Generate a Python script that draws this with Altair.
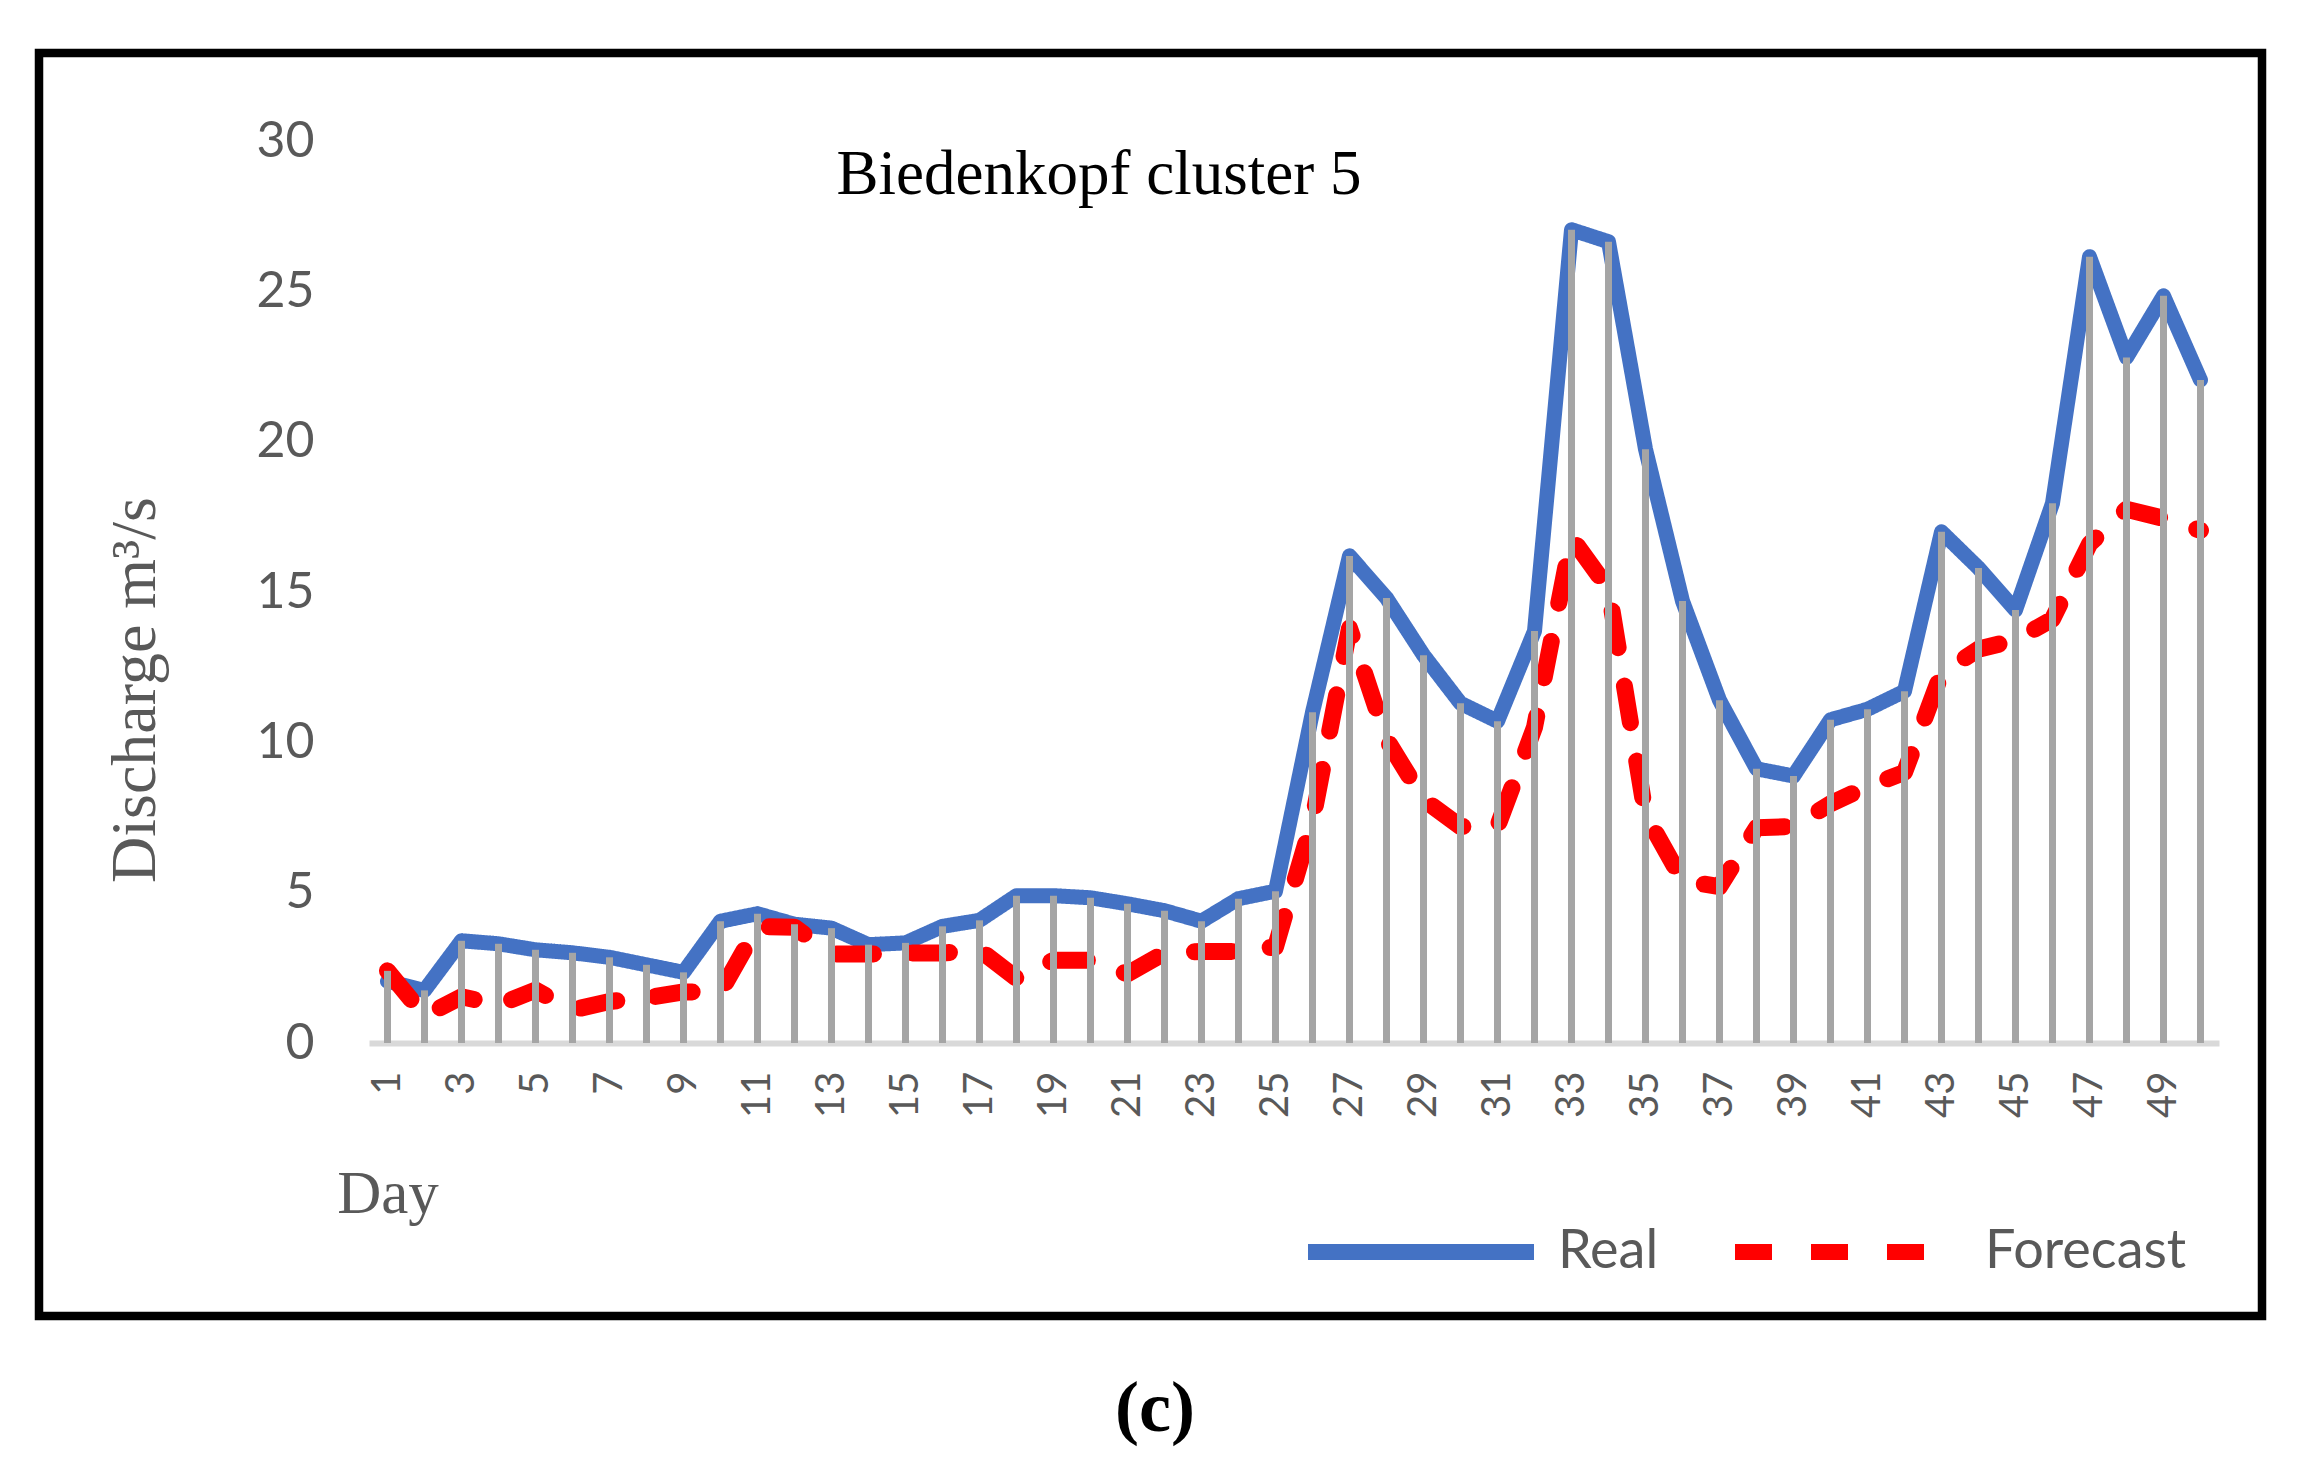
import altair as alt
import pandas as pd

days = list(range(1, 51))
real = [2.05, 1.75, 3.4, 3.3, 3.1, 3.0, 2.85, 2.6, 2.35, 4.05,
        4.3, 3.95, 3.82, 3.27, 3.33, 3.88, 4.08, 4.9, 4.9, 4.83,
        4.63, 4.4, 4.05, 4.8, 5.05, 11.0, 16.2, 14.8, 12.9, 11.3,
        10.7, 13.7, 27.05, 26.65, 19.75, 14.7, 11.4, 9.12, 8.88, 10.75,
        11.1, 11.7, 17.0, 15.8, 14.4, 17.95, 26.15, 22.8, 24.85, 22.05]
forecast = [2.4, 0.9, 1.54, 1.27, 1.76, 1.1, 1.38, 1.5, 1.7, 1.7,
            3.87, 3.85, 2.96, 2.96, 2.99, 2.99, 3.1, 2.15, 2.75, 2.75,
            2.3, 3.0, 3.04, 3.04, 3.2, 7.4, 13.8, 10.1, 8.1, 7.2,
            7.2, 10.5, 16.8, 15.1, 7.6, 5.4, 5.2, 7.16, 7.2, 7.96,
            8.53, 9.0, 12.3, 13.1, 13.4, 14.1, 16.6, 17.75, 17.45, 17.05]
series_names = ["Real", "Forecast"]
series_colors = ["#4472c4", "#ff0000"]
x_label_values = list(range(1, 50, 2))
y_label_values = [0, 5, 10, 15, 20, 25, 30]

chart_title = "Biedenkopf cluster 5"
x_title = "Day"
y_title = "Discharge m\u00b3/s"
panel_tag = "(c)"

wide = pd.DataFrame({"Day": days, "Real": real, "Forecast": forecast})
long = wide.melt("Day", var_name="Series", value_name="Discharge")

W, H = 1850, 902

x_enc = alt.X(
    "Day:Q",
    scale=alt.Scale(domain=[0.5, 50.5], nice=False, zero=False),
    axis=alt.Axis(
        values=x_label_values, format="d", labelAngle=270, labelAlign="right",
        labelBaseline="middle", labelFont="Lato", labelFontSize=40,
        labelColor="#595959", labelPadding=28, ticks=False, tickSize=0,
        domainColor="#d9d9d9", domainWidth=6, grid=False, title=None,
        labelOverlap=False, labelFlush=False,
    ),
)
y_enc = alt.Y(
    "Discharge:Q",
    scale=alt.Scale(domain=[0, 30], nice=False, zero=True),
    axis=alt.Axis(
        values=y_label_values, labelFont="Lato", labelFontSize=50,
        labelColor="#595959", labelPadding=55, ticks=False, tickSize=0,
        domain=False, grid=False, title=None, labelFlush=False,
    ),
)

legend = alt.Legend(
    title=None, orient="none", legendX=931, legendY=990, direction="horizontal",
    symbolType="stroke", symbolSize=51076, symbolStrokeWidth=16,
    labelFont="Lato", labelFontSize=54, labelColor="#595959", labelOffset=16,
    columnPadding=44, labelLimit=500, padding=0,
)
color_enc = alt.Color("Series:N", scale=alt.Scale(domain=series_names, range=series_colors), legend=legend)
dash_enc = alt.StrokeDash("Series:N", scale=alt.Scale(domain=series_names, range=[[1, 0], [37, 39]]), legend=legend)

real_line = alt.Chart(long).transform_filter(alt.datum.Series == "Real").mark_line(
    strokeWidth=15, strokeCap="round", strokeJoin="round"
).encode(x=x_enc, y=y_enc, color=color_enc, strokeDash=dash_enc)

fc_line = alt.Chart(long).transform_filter(alt.datum.Series == "Forecast").mark_line(
    strokeWidth=17, strokeCap="round", strokeJoin="round"
).encode(x=x_enc, y=y_enc, color=color_enc, strokeDash=dash_enc)

drops = alt.Chart(wide).transform_calculate(
    top="max(datum.Real, datum.Forecast)"
).mark_rule(color="#a5a5a5", strokeWidth=7).encode(
    x=alt.X("Day:Q"), y=alt.Y("top:Q"), y2=alt.datum(0)
)

one = alt.Data(values=[{}])

frame = alt.Chart(one).mark_rect(fillOpacity=0, stroke="black", strokeWidth=8.5).encode(
    x=alt.value(-330), x2=alt.value(1893), y=alt.value(-88), y2=alt.value(1175)
)
title_txt = alt.Chart(one).mark_text(
    text=chart_title, font="Liberation Serif", fontSize=63, color="black",
    align="center", baseline="alphabetic"
).encode(x=alt.value(730), y=alt.value(53))
xtitle_txt = alt.Chart(one).mark_text(
    text=x_title, font="Liberation Serif", fontSize=61, color="#595959",
    align="center", baseline="alphabetic"
).encode(x=alt.value(19), y=alt.value(1072))
ytitle_txt = alt.Chart(one).mark_text(
    text=y_title, font="Liberation Serif", fontSize=64, color="#595959",
    align="center", baseline="middle", angle=270
).encode(x=alt.value(-233), y=alt.value(549))
tag_txt = alt.Chart(one).mark_text(
    text=panel_tag, font="Liberation Serif", fontSize=72, fontWeight="bold",
    color="black", align="center", baseline="alphabetic"
).encode(x=alt.value(786), y=alt.value(1290))

chart = alt.layer(
    real_line, fc_line, drops, frame, title_txt, xtitle_txt, ytitle_txt, tag_txt
).properties(
    width=W, height=H, autosize="none",
    padding={"left": 361, "top": 133, "right": 87, "bottom": 425},
    background="white",
).configure_view(strokeWidth=0)

chart.save("out.html", embed_options={"renderer": "svg", "actions": False})
